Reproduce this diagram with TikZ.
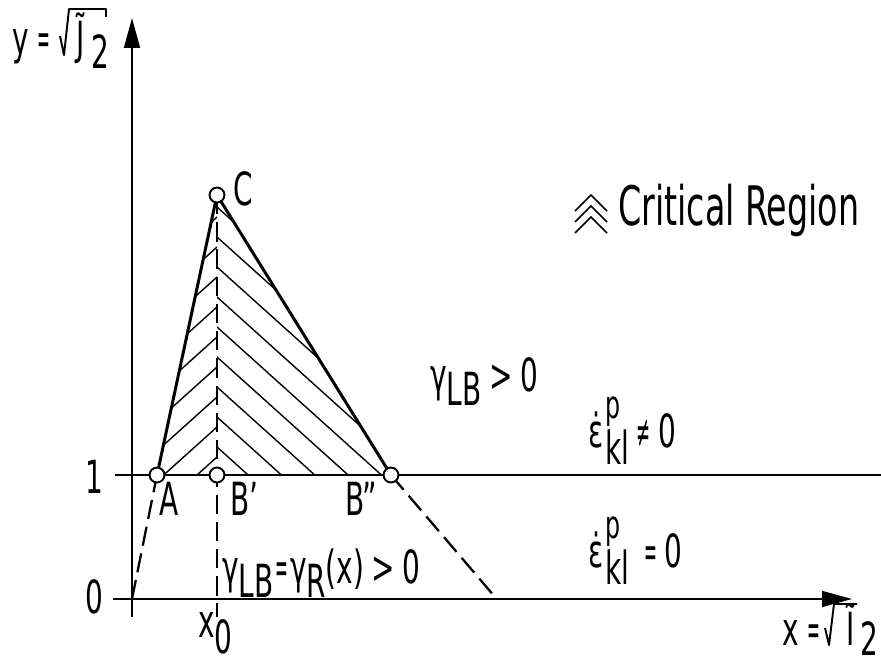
\documentclass[tikz,border=0pt]{standalone}
\usepackage{amsmath}
\usepackage{fontspec}
\setmainfont{DejaVu Sans Condensed}[FakeStretch=0.68]
\usetikzlibrary{arrows.meta}

\newcommand{\nareq}{\scalebox{0.55}[1]{=}}
\newcommand{\narne}{\scalebox{0.6}[1]{≠}}
\newcommand{\pkl}{\kern1pt\rlap{\raisebox{16pt}{\fontsize{22}{22}\selectfont p}}\raisebox{-0.7ex}{kl}}

\begin{document}
\begin{tikzpicture}[x=0.02cm, y=-0.02cm, >={Triangle[length=17pt, width=9pt]},
  axis/.style={line width=1.1pt},
  edge/.style={line width=1.7pt},
  guide/.style={line width=1.3pt, dash pattern=on 11pt off 4.5pt},
  hatch/.style={line width=0.8pt},
  radical/.style={line width=1.1pt, line join=round},
  pt/.style={circle, draw, line width=1.1pt, fill=white, minimum size=8.5pt, inner sep=0pt},
  lbl/.style={font=\fontsize{26}{30}\selectfont, inner sep=0pt}]

  \useasboundingbox (0,0) rectangle (881,662);

  % --- 1. axes and the line y = 1 ---
  \coordinate (O) at (132,599);
  \coordinate (ybot) at (132,617);
  \coordinate (ytop) at (132,18);
  \coordinate (xleft) at (113,599);
  \coordinate (xtip) at (852,599);
  \coordinate (oneL) at (115,475);
  \coordinate (oneR) at (881,475);
  \draw[axis, ->] (ybot) -- (ytop);
  \draw[axis, ->] (xleft) -- (xtip);
  \draw[axis] (oneL) -- (oneR);

  % --- 2. corner points ---
  \coordinate (a) at (157,475);
  \coordinate (bp) at (217,475);
  \coordinate (bpp) at (391,475);
  \coordinate (c) at (217,195);
  \coordinate (x0foot) at (217,617);
  \coordinate (dashend) at (495,597);

  % --- 3. hatching ---
  \begin{scope}
    \clip (a) -- (bp) -- (c) -- cycle;
    \foreach \k in {0,...,9}
      \draw[hatch] (217, 457-30*\k) -- ++(-250, 225);
  \end{scope}
  \begin{scope}
    \clip (bp) -- (bpp) -- (c) -- cycle;
    \foreach \k in {0,...,8}
      \draw[hatch] (217, 447-30*\k) -- ++(300, 270);
  \end{scope}

  % --- 4. boundary lines ---
  \draw[guide] (O) -- (a);
  \draw[edge] (a) -- (c) -- (bpp);
  \draw[guide] (bpp) -- (dashend);
  \draw[guide] (c) -- (x0foot);

  \node[pt] (A) at (a) {};
  \node[pt] (Bp) at (bp) {};
  \node[pt] (Bpp) at (bpp) {};
  \node[pt] (C) at (c) {};

  % --- 5. axis labels ---
  \node[lbl, anchor=base west] (yeq) at (12,55) {y\kern5pt\nareq};
  \node[lbl, anchor=base west] (yJ) at (76,55) {\~J};
  \node[lbl, anchor=base west] (ytwo) at (91,69) {2};
  \draw[radical] (60,36) -- (64,55) -- (69,9) -- (106,9) -- (106,17);

  \node[lbl, anchor=base west] (xeq) at (782,645) {x\kern5pt\nareq};
  \node[lbl, anchor=base west] (xI) at (846,645) {\~I};
  \node[lbl, anchor=base west] (xtwo) at (860,655) {2};
  \draw[radical] (825,628) -- (829,645) -- (834,604) -- (857,604);

  \node[lbl, anchor=base] (one) at (94,493) {1};
  \node[lbl, anchor=base] (zero) at (94,613) {0};

  % --- 6. point and region labels ---
  \node[lbl, anchor=base west] (Clab) at (233,205) {C};
  \node[lbl, anchor=base] (Alab) at (169,515) {A};
  \node[lbl, anchor=base west] (Bplab) at (230,515) {B'};
  \node[lbl, anchor=base west] (Bpplab) at (345,515) {B''};
  \node[lbl, anchor=base west] (x0lab) at (198,637) {x\raisebox{-0.65ex}{0}};
  \node[lbl, anchor=base west] (gLB) at (430,391) {γ\raisebox{-0.6ex}{LB}\,>\,0};
  \node[lbl, anchor=base west] (epsne) at (588,447) {ε̇\pkl\,\narne\,0};
  \node[lbl, anchor=base west] (epseq) at (588,567) {ε̇\pkl\,\,\nareq\,0};
  \node[lbl, anchor=base west] (gR) at (222,583) {γ\raisebox{-0.6ex}{LB}\kern1pt\nareq\kern1pt γ\raisebox{-0.6ex}{R}(x)\,>\,0};
  \node[lbl, font=\fontsize{31}{35}\selectfont, anchor=base west] (crit) at (618,225) {Critical Region};
  \foreach \dy in {0,11,22}
    \draw[line width=0.9pt] (575,211+\dy) -- (591,195+\dy) -- (607,211+\dy);

\end{tikzpicture}
\end{document}
